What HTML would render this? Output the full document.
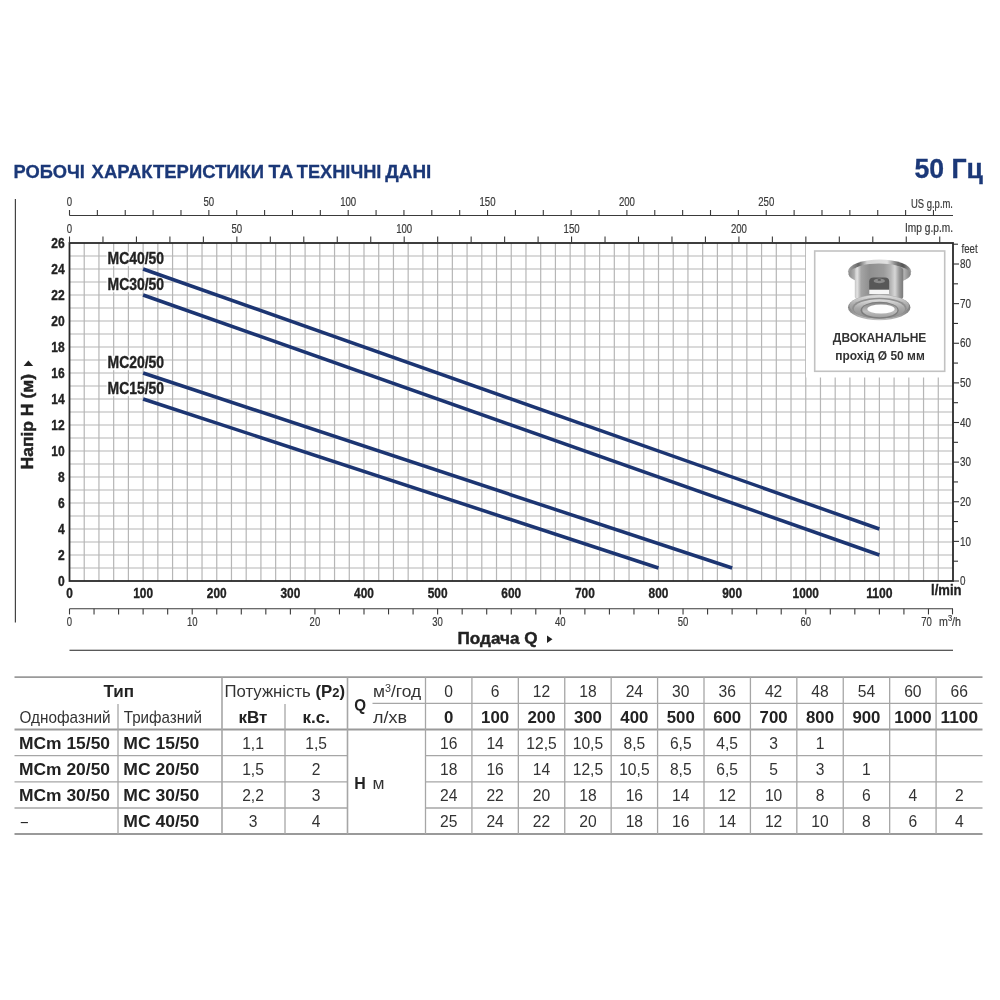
<!DOCTYPE html>
<html lang="uk"><head><meta charset="utf-8"><title>MC 50 Гц – робочі характеристики</title>
<style>
html,body{margin:0;padding:0;background:#fff;}
body{width:1000px;height:1000px;overflow:hidden;}
svg{display:block;font-family:"Liberation Sans",sans-serif;}
</style></head><body>
<svg width="1000" height="1000" viewBox="0 0 1000 1000">
<rect width="1000" height="1000" fill="#fff"/>
<text x="13.57" y="177.80" font-size="18.6" font-weight="bold" fill="#1b3878" textLength="71.39" lengthAdjust="spacingAndGlyphs" stroke="#1b3878" stroke-width="0.3">РОБОЧІ</text>
<text x="91.62" y="177.80" font-size="18.6" font-weight="bold" fill="#1b3878" textLength="172.49" lengthAdjust="spacingAndGlyphs" stroke="#1b3878" stroke-width="0.3">ХАРАКТЕРИСТИКИ</text>
<text x="268.61" y="177.80" font-size="18.6" font-weight="bold" fill="#1b3878" textLength="24.53" lengthAdjust="spacingAndGlyphs" stroke="#1b3878" stroke-width="0.3">ТА</text>
<text x="296.82" y="177.80" font-size="18.6" font-weight="bold" fill="#1b3878" textLength="84.61" lengthAdjust="spacingAndGlyphs" stroke="#1b3878" stroke-width="0.3">ТЕХНІЧНІ</text>
<text x="385.31" y="177.80" font-size="18.6" font-weight="bold" fill="#1b3878" textLength="46.06" lengthAdjust="spacingAndGlyphs" stroke="#1b3878" stroke-width="0.3">ДАНІ</text>
<text x="983.00" y="177.70" font-size="27.2" font-weight="bold" text-anchor="end" fill="#1b3878" textLength="68.50" lengthAdjust="spacingAndGlyphs" stroke="#1b3878" stroke-width="0.3">50 Гц</text>
<line x1="15.40" y1="199.00" x2="15.40" y2="622.50" stroke="#444" stroke-width="1.2"/>
<g stroke="#b6b6b6" stroke-width="1.2">
<line x1="84.22" y1="243.0" x2="84.22" y2="581.0"/>
<line x1="98.95" y1="243.0" x2="98.95" y2="581.0"/>
<line x1="113.67" y1="243.0" x2="113.67" y2="581.0"/>
<line x1="128.40" y1="243.0" x2="128.40" y2="581.0"/>
<line x1="143.12" y1="243.0" x2="143.12" y2="581.0"/>
<line x1="157.85" y1="243.0" x2="157.85" y2="581.0"/>
<line x1="172.57" y1="243.0" x2="172.57" y2="581.0"/>
<line x1="187.30" y1="243.0" x2="187.30" y2="581.0"/>
<line x1="202.03" y1="243.0" x2="202.03" y2="581.0"/>
<line x1="216.75" y1="243.0" x2="216.75" y2="581.0"/>
<line x1="231.47" y1="243.0" x2="231.47" y2="581.0"/>
<line x1="246.20" y1="243.0" x2="246.20" y2="581.0"/>
<line x1="260.92" y1="243.0" x2="260.92" y2="581.0"/>
<line x1="275.65" y1="243.0" x2="275.65" y2="581.0"/>
<line x1="290.38" y1="243.0" x2="290.38" y2="581.0"/>
<line x1="305.10" y1="243.0" x2="305.10" y2="581.0"/>
<line x1="319.82" y1="243.0" x2="319.82" y2="581.0"/>
<line x1="334.55" y1="243.0" x2="334.55" y2="581.0"/>
<line x1="349.27" y1="243.0" x2="349.27" y2="581.0"/>
<line x1="364.00" y1="243.0" x2="364.00" y2="581.0"/>
<line x1="378.72" y1="243.0" x2="378.72" y2="581.0"/>
<line x1="393.45" y1="243.0" x2="393.45" y2="581.0"/>
<line x1="408.17" y1="243.0" x2="408.17" y2="581.0"/>
<line x1="422.90" y1="243.0" x2="422.90" y2="581.0"/>
<line x1="437.62" y1="243.0" x2="437.62" y2="581.0"/>
<line x1="452.35" y1="243.0" x2="452.35" y2="581.0"/>
<line x1="467.07" y1="243.0" x2="467.07" y2="581.0"/>
<line x1="481.80" y1="243.0" x2="481.80" y2="581.0"/>
<line x1="496.52" y1="243.0" x2="496.52" y2="581.0"/>
<line x1="511.25" y1="243.0" x2="511.25" y2="581.0"/>
<line x1="525.97" y1="243.0" x2="525.97" y2="581.0"/>
<line x1="540.70" y1="243.0" x2="540.70" y2="581.0"/>
<line x1="555.42" y1="243.0" x2="555.42" y2="581.0"/>
<line x1="570.15" y1="243.0" x2="570.15" y2="581.0"/>
<line x1="584.88" y1="243.0" x2="584.88" y2="581.0"/>
<line x1="599.60" y1="243.0" x2="599.60" y2="581.0"/>
<line x1="614.32" y1="243.0" x2="614.32" y2="581.0"/>
<line x1="629.05" y1="243.0" x2="629.05" y2="581.0"/>
<line x1="643.77" y1="243.0" x2="643.77" y2="581.0"/>
<line x1="658.50" y1="243.0" x2="658.50" y2="581.0"/>
<line x1="673.23" y1="243.0" x2="673.23" y2="581.0"/>
<line x1="687.95" y1="243.0" x2="687.95" y2="581.0"/>
<line x1="702.67" y1="243.0" x2="702.67" y2="581.0"/>
<line x1="717.40" y1="243.0" x2="717.40" y2="581.0"/>
<line x1="732.12" y1="243.0" x2="732.12" y2="581.0"/>
<line x1="746.85" y1="243.0" x2="746.85" y2="581.0"/>
<line x1="761.57" y1="243.0" x2="761.57" y2="581.0"/>
<line x1="776.30" y1="243.0" x2="776.30" y2="581.0"/>
<line x1="791.02" y1="243.0" x2="791.02" y2="581.0"/>
<line x1="805.75" y1="243.0" x2="805.75" y2="581.0"/>
<line x1="820.47" y1="243.0" x2="820.47" y2="581.0"/>
<line x1="835.20" y1="243.0" x2="835.20" y2="581.0"/>
<line x1="849.92" y1="243.0" x2="849.92" y2="581.0"/>
<line x1="864.65" y1="243.0" x2="864.65" y2="581.0"/>
<line x1="879.38" y1="243.0" x2="879.38" y2="581.0"/>
<line x1="894.10" y1="243.0" x2="894.10" y2="581.0"/>
<line x1="908.82" y1="243.0" x2="908.82" y2="581.0"/>
<line x1="923.55" y1="243.0" x2="923.55" y2="581.0"/>
<line x1="938.27" y1="243.0" x2="938.27" y2="581.0"/>
<line x1="69.5" y1="568.00" x2="953.0" y2="568.00"/>
<line x1="69.5" y1="555.00" x2="953.0" y2="555.00"/>
<line x1="69.5" y1="542.00" x2="953.0" y2="542.00"/>
<line x1="69.5" y1="529.00" x2="953.0" y2="529.00"/>
<line x1="69.5" y1="516.00" x2="953.0" y2="516.00"/>
<line x1="69.5" y1="503.00" x2="953.0" y2="503.00"/>
<line x1="69.5" y1="490.00" x2="953.0" y2="490.00"/>
<line x1="69.5" y1="477.00" x2="953.0" y2="477.00"/>
<line x1="69.5" y1="464.00" x2="953.0" y2="464.00"/>
<line x1="69.5" y1="451.00" x2="953.0" y2="451.00"/>
<line x1="69.5" y1="438.00" x2="953.0" y2="438.00"/>
<line x1="69.5" y1="425.00" x2="953.0" y2="425.00"/>
<line x1="69.5" y1="412.00" x2="953.0" y2="412.00"/>
<line x1="69.5" y1="399.00" x2="953.0" y2="399.00"/>
<line x1="69.5" y1="386.00" x2="953.0" y2="386.00"/>
<line x1="69.5" y1="373.00" x2="953.0" y2="373.00"/>
<line x1="69.5" y1="360.00" x2="953.0" y2="360.00"/>
<line x1="69.5" y1="347.00" x2="953.0" y2="347.00"/>
<line x1="69.5" y1="334.00" x2="953.0" y2="334.00"/>
<line x1="69.5" y1="321.00" x2="953.0" y2="321.00"/>
<line x1="69.5" y1="308.00" x2="953.0" y2="308.00"/>
<line x1="69.5" y1="295.00" x2="953.0" y2="295.00"/>
<line x1="69.5" y1="282.00" x2="953.0" y2="282.00"/>
<line x1="69.5" y1="269.00" x2="953.0" y2="269.00"/>
<line x1="69.5" y1="256.00" x2="953.0" y2="256.00"/>
</g>
<rect x="106.5" y="251.70" width="36" height="14.5" fill="#fff" opacity="0.8"/>
<rect x="106.5" y="277.70" width="36" height="14.5" fill="#fff" opacity="0.8"/>
<rect x="106.5" y="355.70" width="36" height="14.5" fill="#fff" opacity="0.8"/>
<rect x="106.5" y="381.70" width="36" height="14.5" fill="#fff" opacity="0.8"/>
<g stroke="#1c3572" stroke-width="3.5" fill="none">
<line x1="143.12" y1="269.00" x2="879.38" y2="529.00"/>
<line x1="143.12" y1="295.00" x2="879.38" y2="555.00"/>
<line x1="143.12" y1="373.00" x2="732.12" y2="568.00"/>
<line x1="143.12" y1="399.00" x2="658.50" y2="568.00"/>
</g>
<text x="107.60" y="263.70" font-size="16" font-weight="bold" fill="#222" textLength="56.50" lengthAdjust="spacingAndGlyphs" stroke="#222" stroke-width="0.35">MC40/50</text>
<text x="107.60" y="289.70" font-size="16" font-weight="bold" fill="#222" textLength="56.50" lengthAdjust="spacingAndGlyphs" stroke="#222" stroke-width="0.35">MC30/50</text>
<text x="107.60" y="367.70" font-size="16" font-weight="bold" fill="#222" textLength="56.50" lengthAdjust="spacingAndGlyphs" stroke="#222" stroke-width="0.35">MC20/50</text>
<text x="107.60" y="393.70" font-size="16" font-weight="bold" fill="#222" textLength="56.50" lengthAdjust="spacingAndGlyphs" stroke="#222" stroke-width="0.35">MC15/50</text>
<rect x="806" y="243.0" width="147.0" height="134.5" fill="#fff"/>
<rect x="814.7" y="251" width="130" height="120.3" fill="#fff" stroke="#c2c2c2" stroke-width="1.6"/>
<defs>
<linearGradient id="gCyl" x1="0" y1="0" x2="1" y2="0">
<stop offset="0" stop-color="#c4c4c4"/><stop offset="0.05" stop-color="#e2e2e2"/><stop offset="0.13" stop-color="#a4a4a4"/><stop offset="0.3" stop-color="#8f8f8f"/><stop offset="0.6" stop-color="#9c9c9c"/><stop offset="0.74" stop-color="#b4b4b4"/><stop offset="0.83" stop-color="#d6d6d6"/><stop offset="0.92" stop-color="#989898"/><stop offset="1" stop-color="#7a7a7a"/>
</linearGradient>
<linearGradient id="gDisc" x1="0" y1="0" x2="1" y2="0">
<stop offset="0" stop-color="#8a8a8a"/><stop offset="0.1" stop-color="#b2b2b2"/><stop offset="0.5" stop-color="#9c9c9c"/><stop offset="0.9" stop-color="#b0b0b0"/><stop offset="1" stop-color="#808080"/>
</linearGradient>
<linearGradient id="gRim" x1="0" y1="0" x2="1" y2="0">
<stop offset="0" stop-color="#a6a6a6"/><stop offset="0.17" stop-color="#666"/><stop offset="0.3" stop-color="#d4d4d4"/><stop offset="0.62" stop-color="#e0e0e0"/><stop offset="0.78" stop-color="#727272"/><stop offset="0.87" stop-color="#555"/><stop offset="1" stop-color="#a4a4a4"/>
</linearGradient>
<linearGradient id="gRing" x1="0" y1="0" x2="1" y2="0">
<stop offset="0" stop-color="#868686"/><stop offset="0.18" stop-color="#adadad"/><stop offset="0.5" stop-color="#c4c4c4"/><stop offset="0.82" stop-color="#a4a4a4"/><stop offset="1" stop-color="#7e7e7e"/>
</linearGradient>
<linearGradient id="gRing2" x1="0" y1="0" x2="0" y2="1">
<stop offset="0" stop-color="#dedede"/><stop offset="0.45" stop-color="#a9a9a9"/><stop offset="1" stop-color="#8c8c8c"/>
</linearGradient>
<linearGradient id="gRing3" x1="0" y1="0" x2="0" y2="1">
<stop offset="0" stop-color="#868686"/><stop offset="0.6" stop-color="#bdbdbd"/><stop offset="1" stop-color="#a2a2a2"/>
</linearGradient>
<filter id="fSoft" x="-5%" y="-5%" width="110%" height="110%"><feGaussianBlur stdDeviation="0.5"/></filter>
</defs>
<g filter="url(#fSoft)">
<!-- top flange: rim + underside -->
<ellipse cx="879.6" cy="271.4" rx="31.6" ry="11.8" fill="url(#gRim)"/>
<ellipse cx="879.6" cy="274.2" rx="31.0" ry="10.2" fill="url(#gDisc)"/>
<!-- cylinder body -->
<path d="M854.8,270 L854.8,297 A24.2,6.2 0 0 0 903.2,297 L903.2,270 A24.2,6.5 0 0 0 854.8,270 Z" fill="url(#gCyl)"/>
<!-- window -->
<path d="M869.2,293.8 L869.2,281.6 Q869.2,277.6 873.6,277.6 L884.8,277.6 Q889.2,277.6 889.2,281.6 L889.2,293.8 Z" fill="#585858"/>
<ellipse cx="879.3" cy="280.9" rx="5.6" ry="2.4" fill="#8a8a8a"/>
<ellipse cx="879.3" cy="279.9" rx="1.7" ry="0.9" fill="#565656"/>
<rect x="869.2" y="289.7" width="20" height="4.3" fill="#f6f6f6"/>
<!-- bottom stepped ring -->
<ellipse cx="879.2" cy="307.4" rx="31.2" ry="12.8" fill="url(#gRing)"/>
<ellipse cx="879.2" cy="305.8" rx="29.8" ry="10.6" fill="url(#gRing2)"/>
<ellipse cx="879.4" cy="308.2" rx="27.2" ry="10.4" fill="#8f8f8f"/>
<ellipse cx="879.4" cy="308.9" rx="25.6" ry="9.6" fill="url(#gRing2)"/>
<ellipse cx="879.6" cy="310.2" rx="19" ry="8.4" fill="#7c7c7c"/>
<ellipse cx="879.8" cy="310" rx="17.6" ry="7.3" fill="url(#gRing3)"/>
<ellipse cx="881" cy="309" rx="13.6" ry="4.6" fill="#fdfdfd"/>
</g>

<text x="879.60" y="342.40" font-size="13.2" font-weight="bold" text-anchor="middle" fill="#333" textLength="93.50" lengthAdjust="spacingAndGlyphs">ДВОКАНАЛЬНЕ</text>
<text x="880.00" y="359.70" font-size="13.2" font-weight="bold" text-anchor="middle" fill="#333" textLength="89.50" lengthAdjust="spacingAndGlyphs">прохід Ø 50 мм</text>
<rect x="69.5" y="243.0" width="883.5" height="338.0" fill="none" stroke="#2a2a2a" stroke-width="1.8"/>
<text x="64.60" y="586.20" font-size="14.8" font-weight="bold" text-anchor="end" fill="#222" textLength="6.70" lengthAdjust="spacingAndGlyphs" stroke="#222" stroke-width="0.35">0</text>
<text x="64.60" y="560.20" font-size="14.8" font-weight="bold" text-anchor="end" fill="#222" textLength="6.70" lengthAdjust="spacingAndGlyphs" stroke="#222" stroke-width="0.35">2</text>
<text x="64.60" y="534.20" font-size="14.8" font-weight="bold" text-anchor="end" fill="#222" textLength="6.70" lengthAdjust="spacingAndGlyphs" stroke="#222" stroke-width="0.35">4</text>
<text x="64.60" y="508.20" font-size="14.8" font-weight="bold" text-anchor="end" fill="#222" textLength="6.70" lengthAdjust="spacingAndGlyphs" stroke="#222" stroke-width="0.35">6</text>
<text x="64.60" y="482.20" font-size="14.8" font-weight="bold" text-anchor="end" fill="#222" textLength="6.70" lengthAdjust="spacingAndGlyphs" stroke="#222" stroke-width="0.35">8</text>
<text x="64.60" y="456.20" font-size="14.8" font-weight="bold" text-anchor="end" fill="#222" textLength="13.40" lengthAdjust="spacingAndGlyphs" stroke="#222" stroke-width="0.35">10</text>
<text x="64.60" y="430.20" font-size="14.8" font-weight="bold" text-anchor="end" fill="#222" textLength="13.40" lengthAdjust="spacingAndGlyphs" stroke="#222" stroke-width="0.35">12</text>
<text x="64.60" y="404.20" font-size="14.8" font-weight="bold" text-anchor="end" fill="#222" textLength="13.40" lengthAdjust="spacingAndGlyphs" stroke="#222" stroke-width="0.35">14</text>
<text x="64.60" y="378.20" font-size="14.8" font-weight="bold" text-anchor="end" fill="#222" textLength="13.40" lengthAdjust="spacingAndGlyphs" stroke="#222" stroke-width="0.35">16</text>
<text x="64.60" y="352.20" font-size="14.8" font-weight="bold" text-anchor="end" fill="#222" textLength="13.40" lengthAdjust="spacingAndGlyphs" stroke="#222" stroke-width="0.35">18</text>
<text x="64.60" y="326.20" font-size="14.8" font-weight="bold" text-anchor="end" fill="#222" textLength="13.40" lengthAdjust="spacingAndGlyphs" stroke="#222" stroke-width="0.35">20</text>
<text x="64.60" y="300.20" font-size="14.8" font-weight="bold" text-anchor="end" fill="#222" textLength="13.40" lengthAdjust="spacingAndGlyphs" stroke="#222" stroke-width="0.35">22</text>
<text x="64.60" y="274.20" font-size="14.8" font-weight="bold" text-anchor="end" fill="#222" textLength="13.40" lengthAdjust="spacingAndGlyphs" stroke="#222" stroke-width="0.35">24</text>
<text x="64.60" y="248.20" font-size="14.8" font-weight="bold" text-anchor="end" fill="#222" textLength="13.40" lengthAdjust="spacingAndGlyphs" stroke="#222" stroke-width="0.35">26</text>
<text x="69.50" y="598.30" font-size="14.3" font-weight="bold" text-anchor="middle" fill="#222" textLength="6.60" lengthAdjust="spacingAndGlyphs" stroke="#222" stroke-width="0.35">0</text>
<text x="143.12" y="598.30" font-size="14.3" font-weight="bold" text-anchor="middle" fill="#222" textLength="19.80" lengthAdjust="spacingAndGlyphs" stroke="#222" stroke-width="0.35">100</text>
<text x="216.75" y="598.30" font-size="14.3" font-weight="bold" text-anchor="middle" fill="#222" textLength="19.80" lengthAdjust="spacingAndGlyphs" stroke="#222" stroke-width="0.35">200</text>
<text x="290.38" y="598.30" font-size="14.3" font-weight="bold" text-anchor="middle" fill="#222" textLength="19.80" lengthAdjust="spacingAndGlyphs" stroke="#222" stroke-width="0.35">300</text>
<text x="364.00" y="598.30" font-size="14.3" font-weight="bold" text-anchor="middle" fill="#222" textLength="19.80" lengthAdjust="spacingAndGlyphs" stroke="#222" stroke-width="0.35">400</text>
<text x="437.62" y="598.30" font-size="14.3" font-weight="bold" text-anchor="middle" fill="#222" textLength="19.80" lengthAdjust="spacingAndGlyphs" stroke="#222" stroke-width="0.35">500</text>
<text x="511.25" y="598.30" font-size="14.3" font-weight="bold" text-anchor="middle" fill="#222" textLength="19.80" lengthAdjust="spacingAndGlyphs" stroke="#222" stroke-width="0.35">600</text>
<text x="584.88" y="598.30" font-size="14.3" font-weight="bold" text-anchor="middle" fill="#222" textLength="19.80" lengthAdjust="spacingAndGlyphs" stroke="#222" stroke-width="0.35">700</text>
<text x="658.50" y="598.30" font-size="14.3" font-weight="bold" text-anchor="middle" fill="#222" textLength="19.80" lengthAdjust="spacingAndGlyphs" stroke="#222" stroke-width="0.35">800</text>
<text x="732.12" y="598.30" font-size="14.3" font-weight="bold" text-anchor="middle" fill="#222" textLength="19.80" lengthAdjust="spacingAndGlyphs" stroke="#222" stroke-width="0.35">900</text>
<text x="805.75" y="598.30" font-size="14.3" font-weight="bold" text-anchor="middle" fill="#222" textLength="26.40" lengthAdjust="spacingAndGlyphs" stroke="#222" stroke-width="0.35">1000</text>
<text x="879.38" y="598.30" font-size="14.3" font-weight="bold" text-anchor="middle" fill="#222" textLength="26.40" lengthAdjust="spacingAndGlyphs" stroke="#222" stroke-width="0.35">1100</text>
<text x="931.00" y="595.40" font-size="15.5" font-weight="bold" fill="#222" textLength="30.50" lengthAdjust="spacingAndGlyphs" stroke="#222" stroke-width="0.35">l/min</text>
<line x1="69.50" y1="215.50" x2="953.00" y2="215.50" stroke="#3a3a3a" stroke-width="1.1"/>
<line x1="69.50" y1="210.00" x2="69.50" y2="215.50" stroke="#3a3a3a" stroke-width="1.1"/>
<line x1="97.37" y1="210.00" x2="97.37" y2="215.50" stroke="#3a3a3a" stroke-width="1.1"/>
<line x1="125.24" y1="210.00" x2="125.24" y2="215.50" stroke="#3a3a3a" stroke-width="1.1"/>
<line x1="153.11" y1="210.00" x2="153.11" y2="215.50" stroke="#3a3a3a" stroke-width="1.1"/>
<line x1="180.98" y1="210.00" x2="180.98" y2="215.50" stroke="#3a3a3a" stroke-width="1.1"/>
<line x1="208.85" y1="210.00" x2="208.85" y2="215.50" stroke="#3a3a3a" stroke-width="1.1"/>
<line x1="236.72" y1="210.00" x2="236.72" y2="215.50" stroke="#3a3a3a" stroke-width="1.1"/>
<line x1="264.59" y1="210.00" x2="264.59" y2="215.50" stroke="#3a3a3a" stroke-width="1.1"/>
<line x1="292.46" y1="210.00" x2="292.46" y2="215.50" stroke="#3a3a3a" stroke-width="1.1"/>
<line x1="320.33" y1="210.00" x2="320.33" y2="215.50" stroke="#3a3a3a" stroke-width="1.1"/>
<line x1="348.20" y1="210.00" x2="348.20" y2="215.50" stroke="#3a3a3a" stroke-width="1.1"/>
<line x1="376.07" y1="210.00" x2="376.07" y2="215.50" stroke="#3a3a3a" stroke-width="1.1"/>
<line x1="403.94" y1="210.00" x2="403.94" y2="215.50" stroke="#3a3a3a" stroke-width="1.1"/>
<line x1="431.81" y1="210.00" x2="431.81" y2="215.50" stroke="#3a3a3a" stroke-width="1.1"/>
<line x1="459.68" y1="210.00" x2="459.68" y2="215.50" stroke="#3a3a3a" stroke-width="1.1"/>
<line x1="487.55" y1="210.00" x2="487.55" y2="215.50" stroke="#3a3a3a" stroke-width="1.1"/>
<line x1="515.42" y1="210.00" x2="515.42" y2="215.50" stroke="#3a3a3a" stroke-width="1.1"/>
<line x1="543.29" y1="210.00" x2="543.29" y2="215.50" stroke="#3a3a3a" stroke-width="1.1"/>
<line x1="571.16" y1="210.00" x2="571.16" y2="215.50" stroke="#3a3a3a" stroke-width="1.1"/>
<line x1="599.03" y1="210.00" x2="599.03" y2="215.50" stroke="#3a3a3a" stroke-width="1.1"/>
<line x1="626.90" y1="210.00" x2="626.90" y2="215.50" stroke="#3a3a3a" stroke-width="1.1"/>
<line x1="654.77" y1="210.00" x2="654.77" y2="215.50" stroke="#3a3a3a" stroke-width="1.1"/>
<line x1="682.64" y1="210.00" x2="682.64" y2="215.50" stroke="#3a3a3a" stroke-width="1.1"/>
<line x1="710.51" y1="210.00" x2="710.51" y2="215.50" stroke="#3a3a3a" stroke-width="1.1"/>
<line x1="738.38" y1="210.00" x2="738.38" y2="215.50" stroke="#3a3a3a" stroke-width="1.1"/>
<line x1="766.25" y1="210.00" x2="766.25" y2="215.50" stroke="#3a3a3a" stroke-width="1.1"/>
<line x1="794.12" y1="210.00" x2="794.12" y2="215.50" stroke="#3a3a3a" stroke-width="1.1"/>
<line x1="821.99" y1="210.00" x2="821.99" y2="215.50" stroke="#3a3a3a" stroke-width="1.1"/>
<line x1="849.86" y1="210.00" x2="849.86" y2="215.50" stroke="#3a3a3a" stroke-width="1.1"/>
<line x1="877.73" y1="210.00" x2="877.73" y2="215.50" stroke="#3a3a3a" stroke-width="1.1"/>
<line x1="905.60" y1="210.00" x2="905.60" y2="215.50" stroke="#3a3a3a" stroke-width="1.1"/>
<line x1="933.47" y1="210.00" x2="933.47" y2="215.50" stroke="#3a3a3a" stroke-width="1.1"/>
<text x="69.50" y="206.40" font-size="12" text-anchor="middle" fill="#3a3a3a" textLength="5.35" lengthAdjust="spacingAndGlyphs" stroke="#3a3a3a" stroke-width="0.2">0</text>
<text x="208.85" y="206.40" font-size="12" text-anchor="middle" fill="#3a3a3a" textLength="10.70" lengthAdjust="spacingAndGlyphs" stroke="#3a3a3a" stroke-width="0.2">50</text>
<text x="348.20" y="206.40" font-size="12" text-anchor="middle" fill="#3a3a3a" textLength="16.05" lengthAdjust="spacingAndGlyphs" stroke="#3a3a3a" stroke-width="0.2">100</text>
<text x="487.55" y="206.40" font-size="12" text-anchor="middle" fill="#3a3a3a" textLength="16.05" lengthAdjust="spacingAndGlyphs" stroke="#3a3a3a" stroke-width="0.2">150</text>
<text x="626.90" y="206.40" font-size="12" text-anchor="middle" fill="#3a3a3a" textLength="16.05" lengthAdjust="spacingAndGlyphs" stroke="#3a3a3a" stroke-width="0.2">200</text>
<text x="766.25" y="206.40" font-size="12" text-anchor="middle" fill="#3a3a3a" textLength="16.05" lengthAdjust="spacingAndGlyphs" stroke="#3a3a3a" stroke-width="0.2">250</text>
<text x="953.00" y="208.00" font-size="12" text-anchor="end" fill="#3a3a3a" textLength="42.00" lengthAdjust="spacingAndGlyphs" stroke="#3a3a3a" stroke-width="0.2">US g.p.m.</text>
<line x1="69.50" y1="236.50" x2="69.50" y2="243.00" stroke="#3a3a3a" stroke-width="1.1"/>
<line x1="102.97" y1="236.50" x2="102.97" y2="243.00" stroke="#3a3a3a" stroke-width="1.1"/>
<line x1="136.44" y1="236.50" x2="136.44" y2="243.00" stroke="#3a3a3a" stroke-width="1.1"/>
<line x1="169.91" y1="236.50" x2="169.91" y2="243.00" stroke="#3a3a3a" stroke-width="1.1"/>
<line x1="203.38" y1="236.50" x2="203.38" y2="243.00" stroke="#3a3a3a" stroke-width="1.1"/>
<line x1="236.85" y1="236.50" x2="236.85" y2="243.00" stroke="#3a3a3a" stroke-width="1.1"/>
<line x1="270.32" y1="236.50" x2="270.32" y2="243.00" stroke="#3a3a3a" stroke-width="1.1"/>
<line x1="303.79" y1="236.50" x2="303.79" y2="243.00" stroke="#3a3a3a" stroke-width="1.1"/>
<line x1="337.26" y1="236.50" x2="337.26" y2="243.00" stroke="#3a3a3a" stroke-width="1.1"/>
<line x1="370.74" y1="236.50" x2="370.74" y2="243.00" stroke="#3a3a3a" stroke-width="1.1"/>
<line x1="404.21" y1="236.50" x2="404.21" y2="243.00" stroke="#3a3a3a" stroke-width="1.1"/>
<line x1="437.68" y1="236.50" x2="437.68" y2="243.00" stroke="#3a3a3a" stroke-width="1.1"/>
<line x1="471.15" y1="236.50" x2="471.15" y2="243.00" stroke="#3a3a3a" stroke-width="1.1"/>
<line x1="504.62" y1="236.50" x2="504.62" y2="243.00" stroke="#3a3a3a" stroke-width="1.1"/>
<line x1="538.09" y1="236.50" x2="538.09" y2="243.00" stroke="#3a3a3a" stroke-width="1.1"/>
<line x1="571.56" y1="236.50" x2="571.56" y2="243.00" stroke="#3a3a3a" stroke-width="1.1"/>
<line x1="605.03" y1="236.50" x2="605.03" y2="243.00" stroke="#3a3a3a" stroke-width="1.1"/>
<line x1="638.50" y1="236.50" x2="638.50" y2="243.00" stroke="#3a3a3a" stroke-width="1.1"/>
<line x1="671.97" y1="236.50" x2="671.97" y2="243.00" stroke="#3a3a3a" stroke-width="1.1"/>
<line x1="705.44" y1="236.50" x2="705.44" y2="243.00" stroke="#3a3a3a" stroke-width="1.1"/>
<line x1="738.91" y1="236.50" x2="738.91" y2="243.00" stroke="#3a3a3a" stroke-width="1.1"/>
<line x1="772.38" y1="236.50" x2="772.38" y2="243.00" stroke="#3a3a3a" stroke-width="1.1"/>
<line x1="805.85" y1="236.50" x2="805.85" y2="243.00" stroke="#3a3a3a" stroke-width="1.1"/>
<line x1="839.32" y1="236.50" x2="839.32" y2="243.00" stroke="#3a3a3a" stroke-width="1.1"/>
<line x1="872.79" y1="236.50" x2="872.79" y2="243.00" stroke="#3a3a3a" stroke-width="1.1"/>
<line x1="906.26" y1="236.50" x2="906.26" y2="243.00" stroke="#3a3a3a" stroke-width="1.1"/>
<line x1="939.74" y1="236.50" x2="939.74" y2="243.00" stroke="#3a3a3a" stroke-width="1.1"/>
<text x="69.50" y="232.70" font-size="12" text-anchor="middle" fill="#3a3a3a" textLength="5.35" lengthAdjust="spacingAndGlyphs" stroke="#3a3a3a" stroke-width="0.2">0</text>
<text x="236.85" y="232.70" font-size="12" text-anchor="middle" fill="#3a3a3a" textLength="10.70" lengthAdjust="spacingAndGlyphs" stroke="#3a3a3a" stroke-width="0.2">50</text>
<text x="404.21" y="232.70" font-size="12" text-anchor="middle" fill="#3a3a3a" textLength="16.05" lengthAdjust="spacingAndGlyphs" stroke="#3a3a3a" stroke-width="0.2">100</text>
<text x="571.56" y="232.70" font-size="12" text-anchor="middle" fill="#3a3a3a" textLength="16.05" lengthAdjust="spacingAndGlyphs" stroke="#3a3a3a" stroke-width="0.2">150</text>
<text x="738.91" y="232.70" font-size="12" text-anchor="middle" fill="#3a3a3a" textLength="16.05" lengthAdjust="spacingAndGlyphs" stroke="#3a3a3a" stroke-width="0.2">200</text>
<text x="953.00" y="232.00" font-size="12" text-anchor="end" fill="#3a3a3a" textLength="48.00" lengthAdjust="spacingAndGlyphs" stroke="#3a3a3a" stroke-width="0.2">Imp g.p.m.</text>
<line x1="953.00" y1="581.00" x2="959.00" y2="581.00" stroke="#333" stroke-width="1.1"/>
<line x1="953.00" y1="561.19" x2="958.00" y2="561.19" stroke="#333" stroke-width="1.1"/>
<line x1="953.00" y1="541.38" x2="959.00" y2="541.38" stroke="#333" stroke-width="1.1"/>
<line x1="953.00" y1="521.56" x2="958.00" y2="521.56" stroke="#333" stroke-width="1.1"/>
<line x1="953.00" y1="501.75" x2="959.00" y2="501.75" stroke="#333" stroke-width="1.1"/>
<line x1="953.00" y1="481.94" x2="958.00" y2="481.94" stroke="#333" stroke-width="1.1"/>
<line x1="953.00" y1="462.13" x2="959.00" y2="462.13" stroke="#333" stroke-width="1.1"/>
<line x1="953.00" y1="442.32" x2="958.00" y2="442.32" stroke="#333" stroke-width="1.1"/>
<line x1="953.00" y1="422.50" x2="959.00" y2="422.50" stroke="#333" stroke-width="1.1"/>
<line x1="953.00" y1="402.69" x2="958.00" y2="402.69" stroke="#333" stroke-width="1.1"/>
<line x1="953.00" y1="382.88" x2="959.00" y2="382.88" stroke="#333" stroke-width="1.1"/>
<line x1="953.00" y1="363.07" x2="958.00" y2="363.07" stroke="#333" stroke-width="1.1"/>
<line x1="953.00" y1="343.26" x2="959.00" y2="343.26" stroke="#333" stroke-width="1.1"/>
<line x1="953.00" y1="323.44" x2="958.00" y2="323.44" stroke="#333" stroke-width="1.1"/>
<line x1="953.00" y1="303.63" x2="959.00" y2="303.63" stroke="#333" stroke-width="1.1"/>
<line x1="953.00" y1="283.82" x2="958.00" y2="283.82" stroke="#333" stroke-width="1.1"/>
<line x1="953.00" y1="264.01" x2="959.00" y2="264.01" stroke="#333" stroke-width="1.1"/>
<line x1="953.00" y1="244.20" x2="958.00" y2="244.20" stroke="#333" stroke-width="1.1"/>
<text x="960.00" y="585.20" font-size="12" fill="#3a3a3a" textLength="5.50" lengthAdjust="spacingAndGlyphs" stroke="#3a3a3a" stroke-width="0.2">0</text>
<text x="960.00" y="545.58" font-size="12" fill="#3a3a3a" textLength="11.00" lengthAdjust="spacingAndGlyphs" stroke="#3a3a3a" stroke-width="0.2">10</text>
<text x="960.00" y="505.95" font-size="12" fill="#3a3a3a" textLength="11.00" lengthAdjust="spacingAndGlyphs" stroke="#3a3a3a" stroke-width="0.2">20</text>
<text x="960.00" y="466.33" font-size="12" fill="#3a3a3a" textLength="11.00" lengthAdjust="spacingAndGlyphs" stroke="#3a3a3a" stroke-width="0.2">30</text>
<text x="960.00" y="426.70" font-size="12" fill="#3a3a3a" textLength="11.00" lengthAdjust="spacingAndGlyphs" stroke="#3a3a3a" stroke-width="0.2">40</text>
<text x="960.00" y="387.08" font-size="12" fill="#3a3a3a" textLength="11.00" lengthAdjust="spacingAndGlyphs" stroke="#3a3a3a" stroke-width="0.2">50</text>
<text x="960.00" y="347.46" font-size="12" fill="#3a3a3a" textLength="11.00" lengthAdjust="spacingAndGlyphs" stroke="#3a3a3a" stroke-width="0.2">60</text>
<text x="960.00" y="307.83" font-size="12" fill="#3a3a3a" textLength="11.00" lengthAdjust="spacingAndGlyphs" stroke="#3a3a3a" stroke-width="0.2">70</text>
<text x="960.00" y="268.21" font-size="12" fill="#3a3a3a" textLength="11.00" lengthAdjust="spacingAndGlyphs" stroke="#3a3a3a" stroke-width="0.2">80</text>
<text x="961.60" y="253.00" font-size="12" fill="#3a3a3a" textLength="16.00" lengthAdjust="spacingAndGlyphs" stroke="#3a3a3a" stroke-width="0.2">feet</text>
<line x1="69.50" y1="608.80" x2="953.00" y2="608.80" stroke="#3a3a3a" stroke-width="1.1"/>
<line x1="952.50" y1="608.80" x2="952.50" y2="614.40" stroke="#3a3a3a" stroke-width="1.1"/>
<line x1="69.50" y1="608.80" x2="69.50" y2="614.40" stroke="#3a3a3a" stroke-width="1.1"/>
<line x1="94.04" y1="608.80" x2="94.04" y2="614.40" stroke="#3a3a3a" stroke-width="1.1"/>
<line x1="118.58" y1="608.80" x2="118.58" y2="614.40" stroke="#3a3a3a" stroke-width="1.1"/>
<line x1="143.12" y1="608.80" x2="143.12" y2="614.40" stroke="#3a3a3a" stroke-width="1.1"/>
<line x1="167.67" y1="608.80" x2="167.67" y2="614.40" stroke="#3a3a3a" stroke-width="1.1"/>
<line x1="192.21" y1="608.80" x2="192.21" y2="614.40" stroke="#3a3a3a" stroke-width="1.1"/>
<line x1="216.75" y1="608.80" x2="216.75" y2="614.40" stroke="#3a3a3a" stroke-width="1.1"/>
<line x1="241.29" y1="608.80" x2="241.29" y2="614.40" stroke="#3a3a3a" stroke-width="1.1"/>
<line x1="265.83" y1="608.80" x2="265.83" y2="614.40" stroke="#3a3a3a" stroke-width="1.1"/>
<line x1="290.38" y1="608.80" x2="290.38" y2="614.40" stroke="#3a3a3a" stroke-width="1.1"/>
<line x1="314.92" y1="608.80" x2="314.92" y2="614.40" stroke="#3a3a3a" stroke-width="1.1"/>
<line x1="339.46" y1="608.80" x2="339.46" y2="614.40" stroke="#3a3a3a" stroke-width="1.1"/>
<line x1="364.00" y1="608.80" x2="364.00" y2="614.40" stroke="#3a3a3a" stroke-width="1.1"/>
<line x1="388.54" y1="608.80" x2="388.54" y2="614.40" stroke="#3a3a3a" stroke-width="1.1"/>
<line x1="413.08" y1="608.80" x2="413.08" y2="614.40" stroke="#3a3a3a" stroke-width="1.1"/>
<line x1="437.62" y1="608.80" x2="437.62" y2="614.40" stroke="#3a3a3a" stroke-width="1.1"/>
<line x1="462.17" y1="608.80" x2="462.17" y2="614.40" stroke="#3a3a3a" stroke-width="1.1"/>
<line x1="486.71" y1="608.80" x2="486.71" y2="614.40" stroke="#3a3a3a" stroke-width="1.1"/>
<line x1="511.25" y1="608.80" x2="511.25" y2="614.40" stroke="#3a3a3a" stroke-width="1.1"/>
<line x1="535.79" y1="608.80" x2="535.79" y2="614.40" stroke="#3a3a3a" stroke-width="1.1"/>
<line x1="560.33" y1="608.80" x2="560.33" y2="614.40" stroke="#3a3a3a" stroke-width="1.1"/>
<line x1="584.88" y1="608.80" x2="584.88" y2="614.40" stroke="#3a3a3a" stroke-width="1.1"/>
<line x1="609.42" y1="608.80" x2="609.42" y2="614.40" stroke="#3a3a3a" stroke-width="1.1"/>
<line x1="633.96" y1="608.80" x2="633.96" y2="614.40" stroke="#3a3a3a" stroke-width="1.1"/>
<line x1="658.50" y1="608.80" x2="658.50" y2="614.40" stroke="#3a3a3a" stroke-width="1.1"/>
<line x1="683.04" y1="608.80" x2="683.04" y2="614.40" stroke="#3a3a3a" stroke-width="1.1"/>
<line x1="707.58" y1="608.80" x2="707.58" y2="614.40" stroke="#3a3a3a" stroke-width="1.1"/>
<line x1="732.12" y1="608.80" x2="732.12" y2="614.40" stroke="#3a3a3a" stroke-width="1.1"/>
<line x1="756.67" y1="608.80" x2="756.67" y2="614.40" stroke="#3a3a3a" stroke-width="1.1"/>
<line x1="781.21" y1="608.80" x2="781.21" y2="614.40" stroke="#3a3a3a" stroke-width="1.1"/>
<line x1="805.75" y1="608.80" x2="805.75" y2="614.40" stroke="#3a3a3a" stroke-width="1.1"/>
<line x1="830.29" y1="608.80" x2="830.29" y2="614.40" stroke="#3a3a3a" stroke-width="1.1"/>
<line x1="854.83" y1="608.80" x2="854.83" y2="614.40" stroke="#3a3a3a" stroke-width="1.1"/>
<line x1="879.38" y1="608.80" x2="879.38" y2="614.40" stroke="#3a3a3a" stroke-width="1.1"/>
<line x1="903.92" y1="608.80" x2="903.92" y2="614.40" stroke="#3a3a3a" stroke-width="1.1"/>
<line x1="928.46" y1="608.80" x2="928.46" y2="614.40" stroke="#3a3a3a" stroke-width="1.1"/>
<text x="69.50" y="625.70" font-size="12" text-anchor="middle" fill="#3a3a3a" textLength="5.30" lengthAdjust="spacingAndGlyphs" stroke="#3a3a3a" stroke-width="0.2">0</text>
<text x="192.21" y="625.70" font-size="12" text-anchor="middle" fill="#3a3a3a" textLength="10.60" lengthAdjust="spacingAndGlyphs" stroke="#3a3a3a" stroke-width="0.2">10</text>
<text x="314.92" y="625.70" font-size="12" text-anchor="middle" fill="#3a3a3a" textLength="10.60" lengthAdjust="spacingAndGlyphs" stroke="#3a3a3a" stroke-width="0.2">20</text>
<text x="437.62" y="625.70" font-size="12" text-anchor="middle" fill="#3a3a3a" textLength="10.60" lengthAdjust="spacingAndGlyphs" stroke="#3a3a3a" stroke-width="0.2">30</text>
<text x="560.33" y="625.70" font-size="12" text-anchor="middle" fill="#3a3a3a" textLength="10.60" lengthAdjust="spacingAndGlyphs" stroke="#3a3a3a" stroke-width="0.2">40</text>
<text x="683.04" y="625.70" font-size="12" text-anchor="middle" fill="#3a3a3a" textLength="10.60" lengthAdjust="spacingAndGlyphs" stroke="#3a3a3a" stroke-width="0.2">50</text>
<text x="805.75" y="625.70" font-size="12" text-anchor="middle" fill="#3a3a3a" textLength="10.60" lengthAdjust="spacingAndGlyphs" stroke="#3a3a3a" stroke-width="0.2">60</text>
<text x="926.46" y="625.70" font-size="12" text-anchor="middle" fill="#3a3a3a" textLength="10.60" lengthAdjust="spacingAndGlyphs" stroke="#3a3a3a" stroke-width="0.2">70</text>
<text x="939" y="625.5" font-size="12" fill="#3a3a3a" stroke="#3a3a3a" stroke-width="0.2" textLength="22" lengthAdjust="spacingAndGlyphs">m<tspan dy="-4.5" font-size="8.5">3</tspan><tspan dy="4.5">/h</tspan></text>
<text x="457.50" y="644.30" font-size="16" font-weight="bold" fill="#222" textLength="80.00" lengthAdjust="spacingAndGlyphs" stroke="#222" stroke-width="0.4">Подача Q</text>
<path d="M547,635.5 L552.5,639.3 L547,643 Z" fill="#222"/>
<line x1="69.50" y1="650.20" x2="953.00" y2="650.20" stroke="#222" stroke-width="1.1"/>
<text transform="translate(33.3,469.5) rotate(-90)" font-size="16" font-weight="bold" fill="#222" stroke="#222" stroke-width="0.45" textLength="95.5" lengthAdjust="spacingAndGlyphs">Напір H  (м)</text>
<path d="M23.6,366 L28.4,360.4 L33.2,366 Z" fill="#222"/>
<line x1="14.50" y1="677.20" x2="982.50" y2="677.20" stroke="#9a9a9a" stroke-width="1.8"/>
<line x1="14.50" y1="729.50" x2="982.50" y2="729.50" stroke="#9a9a9a" stroke-width="1.8"/>
<line x1="14.50" y1="834.00" x2="982.50" y2="834.00" stroke="#9a9a9a" stroke-width="1.8"/>
<line x1="372.50" y1="703.30" x2="982.50" y2="703.30" stroke="#a6a6a6" stroke-width="1.3"/>
<line x1="14.50" y1="755.60" x2="347.50" y2="755.60" stroke="#a6a6a6" stroke-width="1.3"/>
<line x1="425.50" y1="755.60" x2="982.50" y2="755.60" stroke="#a6a6a6" stroke-width="1.3"/>
<line x1="14.50" y1="781.80" x2="347.50" y2="781.80" stroke="#a6a6a6" stroke-width="1.3"/>
<line x1="425.50" y1="781.80" x2="982.50" y2="781.80" stroke="#a6a6a6" stroke-width="1.3"/>
<line x1="14.50" y1="808.00" x2="347.50" y2="808.00" stroke="#a6a6a6" stroke-width="1.3"/>
<line x1="425.50" y1="808.00" x2="982.50" y2="808.00" stroke="#a6a6a6" stroke-width="1.3"/>
<line x1="118.00" y1="704.00" x2="118.00" y2="834.00" stroke="#a6a6a6" stroke-width="1.3"/>
<line x1="222.00" y1="677.20" x2="222.00" y2="834.00" stroke="#a6a6a6" stroke-width="1.6"/>
<line x1="285.00" y1="704.00" x2="285.00" y2="834.00" stroke="#a6a6a6" stroke-width="1.3"/>
<line x1="347.50" y1="677.20" x2="347.50" y2="834.00" stroke="#a6a6a6" stroke-width="1.6"/>
<line x1="425.50" y1="677.20" x2="425.50" y2="834.00" stroke="#a6a6a6" stroke-width="1.3"/>
<line x1="471.92" y1="677.20" x2="471.92" y2="834.00" stroke="#a6a6a6" stroke-width="1.3"/>
<line x1="518.33" y1="677.20" x2="518.33" y2="834.00" stroke="#a6a6a6" stroke-width="1.3"/>
<line x1="564.75" y1="677.20" x2="564.75" y2="834.00" stroke="#a6a6a6" stroke-width="1.3"/>
<line x1="611.17" y1="677.20" x2="611.17" y2="834.00" stroke="#a6a6a6" stroke-width="1.3"/>
<line x1="657.58" y1="677.20" x2="657.58" y2="834.00" stroke="#a6a6a6" stroke-width="1.3"/>
<line x1="704.00" y1="677.20" x2="704.00" y2="834.00" stroke="#a6a6a6" stroke-width="1.3"/>
<line x1="750.42" y1="677.20" x2="750.42" y2="834.00" stroke="#a6a6a6" stroke-width="1.3"/>
<line x1="796.83" y1="677.20" x2="796.83" y2="834.00" stroke="#a6a6a6" stroke-width="1.3"/>
<line x1="843.25" y1="677.20" x2="843.25" y2="834.00" stroke="#a6a6a6" stroke-width="1.3"/>
<line x1="889.67" y1="677.20" x2="889.67" y2="834.00" stroke="#a6a6a6" stroke-width="1.3"/>
<line x1="936.08" y1="677.20" x2="936.08" y2="834.00" stroke="#a6a6a6" stroke-width="1.3"/>
<text x="118.80" y="697.00" font-size="16.2" font-weight="bold" text-anchor="middle" fill="#222" textLength="30.50" lengthAdjust="spacingAndGlyphs">Тип</text>
<text x="19.50" y="722.50" font-size="16.2" fill="#333" textLength="91.00" lengthAdjust="spacingAndGlyphs">Однофазний</text>
<text x="123.80" y="722.50" font-size="16.2" fill="#333" textLength="78.20" lengthAdjust="spacingAndGlyphs">Трифазний</text>
<text x="224.5" y="697" font-size="16.2" fill="#333" textLength="120.5" lengthAdjust="spacingAndGlyphs">Потужність <tspan font-weight="bold" fill="#222">(P<tspan font-size="12.5">2</tspan>)</tspan></text>
<text x="253.00" y="722.50" font-size="16.2" font-weight="bold" text-anchor="middle" fill="#222" textLength="28.80" lengthAdjust="spacingAndGlyphs">кВт</text>
<text x="316.20" y="722.50" font-size="16.2" font-weight="bold" text-anchor="middle" fill="#222" textLength="27.50" lengthAdjust="spacingAndGlyphs">к.с.</text>
<text x="354.30" y="710.50" font-size="16.5" font-weight="bold" fill="#222" textLength="11.80" lengthAdjust="spacingAndGlyphs">Q</text>
<text x="373" y="697" font-size="16.2" fill="#333" textLength="48.2" lengthAdjust="spacingAndGlyphs">м<tspan dy="-5.5" font-size="10">3</tspan><tspan dy="5.5">/год</tspan></text>
<text x="373.00" y="722.50" font-size="16.2" fill="#333" textLength="34.00" lengthAdjust="spacingAndGlyphs">л/хв</text>
<text x="354.30" y="788.80" font-size="16.5" font-weight="bold" fill="#222" textLength="11.50" lengthAdjust="spacingAndGlyphs">H</text>
<text x="372.50" y="788.80" font-size="16.2" fill="#333" textLength="12.00" lengthAdjust="spacingAndGlyphs">м</text>
<text x="19.00" y="748.60" font-size="16" font-weight="bold" fill="#222" textLength="91.00" lengthAdjust="spacingAndGlyphs">MCm 15/50</text>
<text x="123.30" y="748.60" font-size="16" font-weight="bold" fill="#222" textLength="76.00" lengthAdjust="spacingAndGlyphs">MC 15/50</text>
<text x="253.00" y="748.60" font-size="16.2" text-anchor="middle" fill="#333" textLength="21.70" lengthAdjust="spacingAndGlyphs">1,1</text>
<text x="316.20" y="748.60" font-size="16.2" text-anchor="middle" fill="#333" textLength="21.70" lengthAdjust="spacingAndGlyphs">1,5</text>
<text x="448.71" y="748.60" font-size="16.2" text-anchor="middle" fill="#333" textLength="17.40" lengthAdjust="spacingAndGlyphs">16</text>
<text x="495.12" y="748.60" font-size="16.2" text-anchor="middle" fill="#333" textLength="17.40" lengthAdjust="spacingAndGlyphs">14</text>
<text x="541.54" y="748.60" font-size="16.2" text-anchor="middle" fill="#333" textLength="30.40" lengthAdjust="spacingAndGlyphs">12,5</text>
<text x="587.96" y="748.60" font-size="16.2" text-anchor="middle" fill="#333" textLength="30.40" lengthAdjust="spacingAndGlyphs">10,5</text>
<text x="634.38" y="748.60" font-size="16.2" text-anchor="middle" fill="#333" textLength="21.70" lengthAdjust="spacingAndGlyphs">8,5</text>
<text x="680.79" y="748.60" font-size="16.2" text-anchor="middle" fill="#333" textLength="21.70" lengthAdjust="spacingAndGlyphs">6,5</text>
<text x="727.21" y="748.60" font-size="16.2" text-anchor="middle" fill="#333" textLength="21.70" lengthAdjust="spacingAndGlyphs">4,5</text>
<text x="773.62" y="748.60" font-size="16.2" text-anchor="middle" fill="#333" textLength="8.70" lengthAdjust="spacingAndGlyphs">3</text>
<text x="820.04" y="748.60" font-size="16.2" text-anchor="middle" fill="#333" textLength="8.70" lengthAdjust="spacingAndGlyphs">1</text>
<text x="19.00" y="774.70" font-size="16" font-weight="bold" fill="#222" textLength="91.00" lengthAdjust="spacingAndGlyphs">MCm 20/50</text>
<text x="123.30" y="774.70" font-size="16" font-weight="bold" fill="#222" textLength="76.00" lengthAdjust="spacingAndGlyphs">MC 20/50</text>
<text x="253.00" y="774.70" font-size="16.2" text-anchor="middle" fill="#333" textLength="21.70" lengthAdjust="spacingAndGlyphs">1,5</text>
<text x="316.20" y="774.70" font-size="16.2" text-anchor="middle" fill="#333" textLength="8.70" lengthAdjust="spacingAndGlyphs">2</text>
<text x="448.71" y="774.70" font-size="16.2" text-anchor="middle" fill="#333" textLength="17.40" lengthAdjust="spacingAndGlyphs">18</text>
<text x="495.12" y="774.70" font-size="16.2" text-anchor="middle" fill="#333" textLength="17.40" lengthAdjust="spacingAndGlyphs">16</text>
<text x="541.54" y="774.70" font-size="16.2" text-anchor="middle" fill="#333" textLength="17.40" lengthAdjust="spacingAndGlyphs">14</text>
<text x="587.96" y="774.70" font-size="16.2" text-anchor="middle" fill="#333" textLength="30.40" lengthAdjust="spacingAndGlyphs">12,5</text>
<text x="634.38" y="774.70" font-size="16.2" text-anchor="middle" fill="#333" textLength="30.40" lengthAdjust="spacingAndGlyphs">10,5</text>
<text x="680.79" y="774.70" font-size="16.2" text-anchor="middle" fill="#333" textLength="21.70" lengthAdjust="spacingAndGlyphs">8,5</text>
<text x="727.21" y="774.70" font-size="16.2" text-anchor="middle" fill="#333" textLength="21.70" lengthAdjust="spacingAndGlyphs">6,5</text>
<text x="773.62" y="774.70" font-size="16.2" text-anchor="middle" fill="#333" textLength="8.70" lengthAdjust="spacingAndGlyphs">5</text>
<text x="820.04" y="774.70" font-size="16.2" text-anchor="middle" fill="#333" textLength="8.70" lengthAdjust="spacingAndGlyphs">3</text>
<text x="866.46" y="774.70" font-size="16.2" text-anchor="middle" fill="#333" textLength="8.70" lengthAdjust="spacingAndGlyphs">1</text>
<text x="19.00" y="800.70" font-size="16" font-weight="bold" fill="#222" textLength="91.00" lengthAdjust="spacingAndGlyphs">MCm 30/50</text>
<text x="123.30" y="800.70" font-size="16" font-weight="bold" fill="#222" textLength="76.00" lengthAdjust="spacingAndGlyphs">MC 30/50</text>
<text x="253.00" y="800.70" font-size="16.2" text-anchor="middle" fill="#333" textLength="21.70" lengthAdjust="spacingAndGlyphs">2,2</text>
<text x="316.20" y="800.70" font-size="16.2" text-anchor="middle" fill="#333" textLength="8.70" lengthAdjust="spacingAndGlyphs">3</text>
<text x="448.71" y="800.70" font-size="16.2" text-anchor="middle" fill="#333" textLength="17.40" lengthAdjust="spacingAndGlyphs">24</text>
<text x="495.12" y="800.70" font-size="16.2" text-anchor="middle" fill="#333" textLength="17.40" lengthAdjust="spacingAndGlyphs">22</text>
<text x="541.54" y="800.70" font-size="16.2" text-anchor="middle" fill="#333" textLength="17.40" lengthAdjust="spacingAndGlyphs">20</text>
<text x="587.96" y="800.70" font-size="16.2" text-anchor="middle" fill="#333" textLength="17.40" lengthAdjust="spacingAndGlyphs">18</text>
<text x="634.38" y="800.70" font-size="16.2" text-anchor="middle" fill="#333" textLength="17.40" lengthAdjust="spacingAndGlyphs">16</text>
<text x="680.79" y="800.70" font-size="16.2" text-anchor="middle" fill="#333" textLength="17.40" lengthAdjust="spacingAndGlyphs">14</text>
<text x="727.21" y="800.70" font-size="16.2" text-anchor="middle" fill="#333" textLength="17.40" lengthAdjust="spacingAndGlyphs">12</text>
<text x="773.62" y="800.70" font-size="16.2" text-anchor="middle" fill="#333" textLength="17.40" lengthAdjust="spacingAndGlyphs">10</text>
<text x="820.04" y="800.70" font-size="16.2" text-anchor="middle" fill="#333" textLength="8.70" lengthAdjust="spacingAndGlyphs">8</text>
<text x="866.46" y="800.70" font-size="16.2" text-anchor="middle" fill="#333" textLength="8.70" lengthAdjust="spacingAndGlyphs">6</text>
<text x="912.88" y="800.70" font-size="16.2" text-anchor="middle" fill="#333" textLength="8.70" lengthAdjust="spacingAndGlyphs">4</text>
<text x="959.29" y="800.70" font-size="16.2" text-anchor="middle" fill="#333" textLength="8.70" lengthAdjust="spacingAndGlyphs">2</text>
<text x="20.80" y="826.80" font-size="16" fill="#222" textLength="7.20" lengthAdjust="spacingAndGlyphs">–</text>
<text x="123.30" y="826.80" font-size="16" font-weight="bold" fill="#222" textLength="76.00" lengthAdjust="spacingAndGlyphs">MC 40/50</text>
<text x="253.00" y="826.80" font-size="16.2" text-anchor="middle" fill="#333" textLength="8.70" lengthAdjust="spacingAndGlyphs">3</text>
<text x="316.20" y="826.80" font-size="16.2" text-anchor="middle" fill="#333" textLength="8.70" lengthAdjust="spacingAndGlyphs">4</text>
<text x="448.71" y="826.80" font-size="16.2" text-anchor="middle" fill="#333" textLength="17.40" lengthAdjust="spacingAndGlyphs">25</text>
<text x="495.12" y="826.80" font-size="16.2" text-anchor="middle" fill="#333" textLength="17.40" lengthAdjust="spacingAndGlyphs">24</text>
<text x="541.54" y="826.80" font-size="16.2" text-anchor="middle" fill="#333" textLength="17.40" lengthAdjust="spacingAndGlyphs">22</text>
<text x="587.96" y="826.80" font-size="16.2" text-anchor="middle" fill="#333" textLength="17.40" lengthAdjust="spacingAndGlyphs">20</text>
<text x="634.38" y="826.80" font-size="16.2" text-anchor="middle" fill="#333" textLength="17.40" lengthAdjust="spacingAndGlyphs">18</text>
<text x="680.79" y="826.80" font-size="16.2" text-anchor="middle" fill="#333" textLength="17.40" lengthAdjust="spacingAndGlyphs">16</text>
<text x="727.21" y="826.80" font-size="16.2" text-anchor="middle" fill="#333" textLength="17.40" lengthAdjust="spacingAndGlyphs">14</text>
<text x="773.62" y="826.80" font-size="16.2" text-anchor="middle" fill="#333" textLength="17.40" lengthAdjust="spacingAndGlyphs">12</text>
<text x="820.04" y="826.80" font-size="16.2" text-anchor="middle" fill="#333" textLength="17.40" lengthAdjust="spacingAndGlyphs">10</text>
<text x="866.46" y="826.80" font-size="16.2" text-anchor="middle" fill="#333" textLength="8.70" lengthAdjust="spacingAndGlyphs">8</text>
<text x="912.88" y="826.80" font-size="16.2" text-anchor="middle" fill="#333" textLength="8.70" lengthAdjust="spacingAndGlyphs">6</text>
<text x="959.29" y="826.80" font-size="16.2" text-anchor="middle" fill="#333" textLength="8.70" lengthAdjust="spacingAndGlyphs">4</text>
<text x="448.71" y="697.30" font-size="16.2" text-anchor="middle" fill="#333" textLength="8.70" lengthAdjust="spacingAndGlyphs">0</text>
<text x="448.71" y="722.80" font-size="16.2" font-weight="bold" text-anchor="middle" fill="#222" textLength="9.35" lengthAdjust="spacingAndGlyphs">0</text>
<text x="495.12" y="697.30" font-size="16.2" text-anchor="middle" fill="#333" textLength="8.70" lengthAdjust="spacingAndGlyphs">6</text>
<text x="495.12" y="722.80" font-size="16.2" font-weight="bold" text-anchor="middle" fill="#222" textLength="28.05" lengthAdjust="spacingAndGlyphs">100</text>
<text x="541.54" y="697.30" font-size="16.2" text-anchor="middle" fill="#333" textLength="17.40" lengthAdjust="spacingAndGlyphs">12</text>
<text x="541.54" y="722.80" font-size="16.2" font-weight="bold" text-anchor="middle" fill="#222" textLength="28.05" lengthAdjust="spacingAndGlyphs">200</text>
<text x="587.96" y="697.30" font-size="16.2" text-anchor="middle" fill="#333" textLength="17.40" lengthAdjust="spacingAndGlyphs">18</text>
<text x="587.96" y="722.80" font-size="16.2" font-weight="bold" text-anchor="middle" fill="#222" textLength="28.05" lengthAdjust="spacingAndGlyphs">300</text>
<text x="634.38" y="697.30" font-size="16.2" text-anchor="middle" fill="#333" textLength="17.40" lengthAdjust="spacingAndGlyphs">24</text>
<text x="634.38" y="722.80" font-size="16.2" font-weight="bold" text-anchor="middle" fill="#222" textLength="28.05" lengthAdjust="spacingAndGlyphs">400</text>
<text x="680.79" y="697.30" font-size="16.2" text-anchor="middle" fill="#333" textLength="17.40" lengthAdjust="spacingAndGlyphs">30</text>
<text x="680.79" y="722.80" font-size="16.2" font-weight="bold" text-anchor="middle" fill="#222" textLength="28.05" lengthAdjust="spacingAndGlyphs">500</text>
<text x="727.21" y="697.30" font-size="16.2" text-anchor="middle" fill="#333" textLength="17.40" lengthAdjust="spacingAndGlyphs">36</text>
<text x="727.21" y="722.80" font-size="16.2" font-weight="bold" text-anchor="middle" fill="#222" textLength="28.05" lengthAdjust="spacingAndGlyphs">600</text>
<text x="773.62" y="697.30" font-size="16.2" text-anchor="middle" fill="#333" textLength="17.40" lengthAdjust="spacingAndGlyphs">42</text>
<text x="773.62" y="722.80" font-size="16.2" font-weight="bold" text-anchor="middle" fill="#222" textLength="28.05" lengthAdjust="spacingAndGlyphs">700</text>
<text x="820.04" y="697.30" font-size="16.2" text-anchor="middle" fill="#333" textLength="17.40" lengthAdjust="spacingAndGlyphs">48</text>
<text x="820.04" y="722.80" font-size="16.2" font-weight="bold" text-anchor="middle" fill="#222" textLength="28.05" lengthAdjust="spacingAndGlyphs">800</text>
<text x="866.46" y="697.30" font-size="16.2" text-anchor="middle" fill="#333" textLength="17.40" lengthAdjust="spacingAndGlyphs">54</text>
<text x="866.46" y="722.80" font-size="16.2" font-weight="bold" text-anchor="middle" fill="#222" textLength="28.05" lengthAdjust="spacingAndGlyphs">900</text>
<text x="912.88" y="697.30" font-size="16.2" text-anchor="middle" fill="#333" textLength="17.40" lengthAdjust="spacingAndGlyphs">60</text>
<text x="912.88" y="722.80" font-size="16.2" font-weight="bold" text-anchor="middle" fill="#222" textLength="37.40" lengthAdjust="spacingAndGlyphs">1000</text>
<text x="959.29" y="697.30" font-size="16.2" text-anchor="middle" fill="#333" textLength="17.40" lengthAdjust="spacingAndGlyphs">66</text>
<text x="959.29" y="722.80" font-size="16.2" font-weight="bold" text-anchor="middle" fill="#222" textLength="37.40" lengthAdjust="spacingAndGlyphs">1100</text>
</svg>
</body></html>
